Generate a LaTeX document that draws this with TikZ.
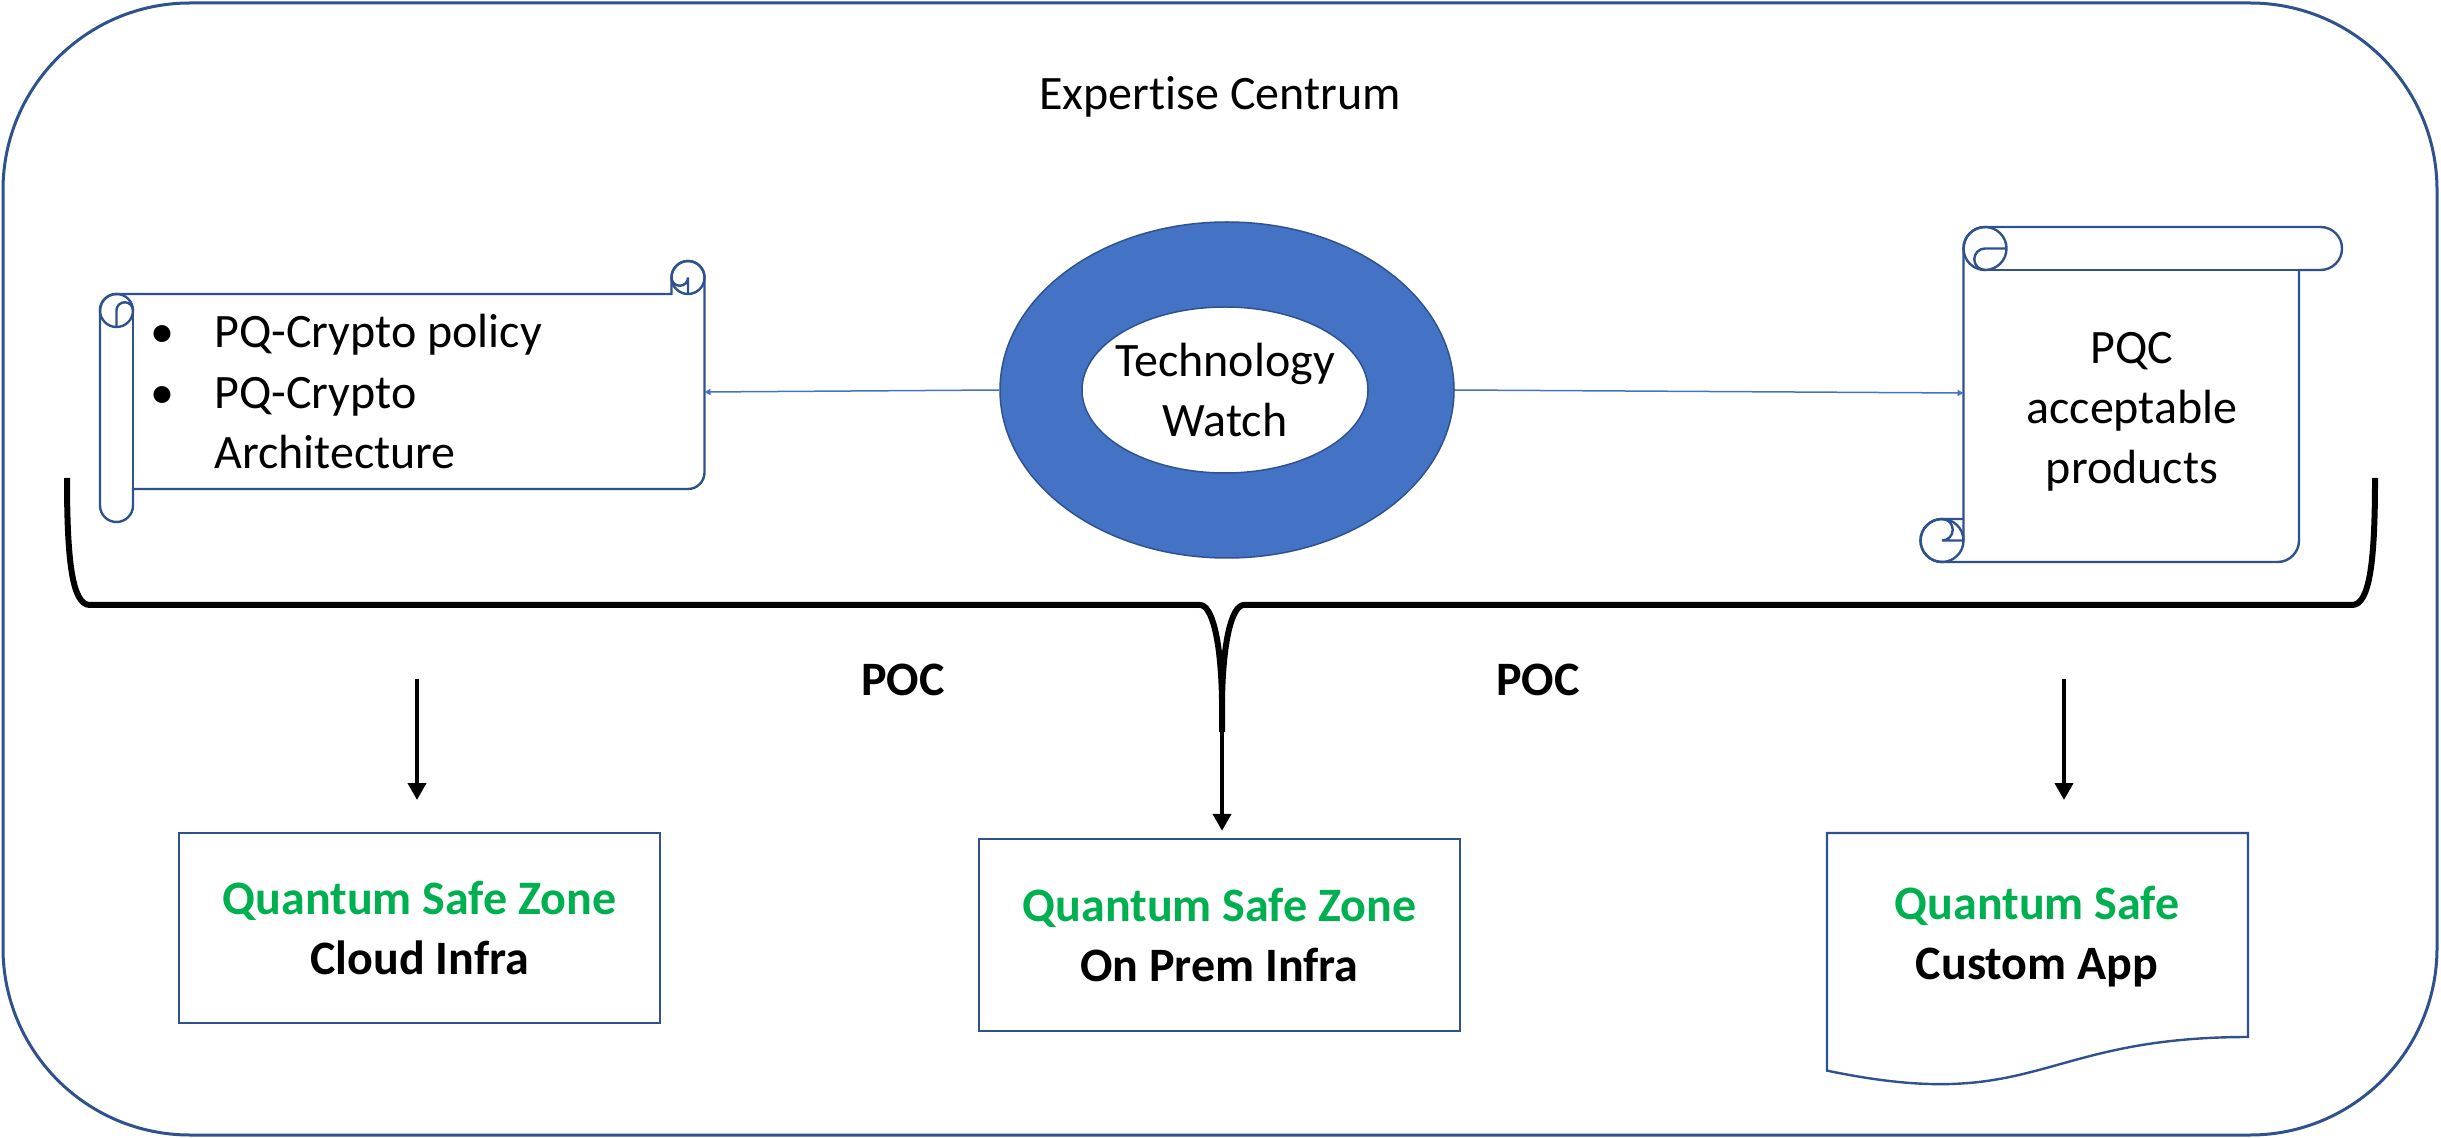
\documentclass[tikz,border=0pt]{standalone}
\usepackage{fontspec}
\setmainfont{Carlito}[Ligatures=NoCommon]
\usetikzlibrary{arrows.meta,shapes.geometric}
\definecolor{frameblue}{HTML}{2F528F}
\definecolor{donutblue}{HTML}{4472C4}
\definecolor{zonegreen}{HTML}{00B050}

\begin{document}
\begin{tikzpicture}[x=0.5pt,y=-0.5pt,
  outline/.style={draw=frameblue, line width=1.2pt},
  txt/.style={font=\fontsize{24}{30}\selectfont, inner sep=0pt},
  btxt/.style={font=\fontsize{24}{30}\selectfont\bfseries, inner sep=0pt},
  zonebox/.style={draw=frameblue, line width=1.2pt, minimum width=240.5pt,
    align=center, inner sep=0pt, font=\fontsize{24}{30}\selectfont\bfseries},
  downarrow/.style={line width=2pt, -{Triangle[width=9pt,length=8.5pt]}},
  bracket/.style={line width=3pt},
  link/.style={donutblue, line width=0.75pt, -{Triangle[width=3pt,length=3pt]}}]
\useasboundingbox (0,0) rectangle (2441,1138);

% outer frame
\draw[frameblue, line width=1.5pt, rounded corners=93.5pt] (3,3) rectangle (2437,1135);
\node[txt, anchor=base] (title) at (1220,110) {Expertise Centrum};

% horizontal scroll (left)
\draw[outline] (100,310.5) arc[start angle=180, end angle=270, radius=16.5]
  -- (671.5,294) -- (671.5,277.5)
  arc[start angle=180, end angle=360, radius=16.5]
  -- (704.5,472.5) arc[start angle=0, end angle=90, radius=16.5]
  -- (133,489) -- (133,505.5)
  arc[start angle=0, end angle=180, radius=16.5] -- cycle;
\draw[outline] (133,310.5) -- (133,489);
\draw[outline] (116.5,310.5) circle[radius=16.5];
\draw[outline] (116.5,327) -- (116.5,310.5) arc[start angle=180, end angle=360, radius=8.25];
\draw[outline] (688,277.5) circle[radius=16.5];
\draw[outline] (688,294) -- (688,277.5) arc[start angle=0, end angle=180, radius=8.25];
\coordinate (policyE) at (704.5,392);

\node[txt, anchor=base] (bul1) at (162,348) {\textbullet};
\node[txt, anchor=base west] (pol1) at (214,348) {PQ-Crypto policy};
\node[txt, anchor=base] (bul2) at (162,409) {\textbullet};
\node[txt, anchor=base west] (pol2) at (214,409) {PQ-Crypto};
\node[txt, anchor=base west] (pol3) at (214,469) {Architecture};

% vertical scroll (right)
\draw[outline] (1942,519) arc[start angle=270, end angle=90, radius=21.5]
  -- (2277.5,562) arc[start angle=90, end angle=0, radius=21.5]
  -- (2299,270) -- (2320.5,270)
  arc[start angle=90, end angle=-90, radius=21.5]
  -- (1985,227) arc[start angle=270, end angle=180, radius=21.5]
  -- (1963.5,540.5);
\draw[outline] (1985,270) -- (2299,270);
\draw[outline] (1985,248.5) circle[radius=21.5];
\draw[outline] (2006.5,248.5) -- (1985,248.5) arc[start angle=270, end angle=90, radius=10.75];
\draw[outline] (1942,540.5) circle[radius=21.5];
\draw[outline] (1963.5,519) -- (1942,519) arc[start angle=270, end angle=450, radius=10.75] -- (1963.5,540.5);
\coordinate (productsW) at (1963.5,393);
\node[txt, align=center] (products) at (2132,412) {PQC\\acceptable\\products};

% technology watch ring
\node[ellipse, draw=frameblue, fill=donutblue, line width=0.75pt,
  minimum width=227pt, minimum height=168pt, inner sep=0pt] (ring) at (1227,390) {};
\node[ellipse, draw=frameblue, fill=white, line width=0.75pt,
  minimum width=143pt, minimum height=83pt, inner sep=0pt] (core) at (1225,390) {};
\node[txt, align=center] (watch) at (core.center) {Technology\\Watch};

\draw[link] (ring.west) -- (policyE);
\draw[link] (ring.east) -- (productsW);

% bracket gathering the inputs
\coordinate (tip) at (1222,732);
\draw[bracket] (67,478) .. controls (67,560) and (72,605) .. (90,605)
  -- (1200,605) .. controls (1212,605) and (1221,640) .. (1222,700) -- (tip);
\draw[bracket] (2375,478) .. controls (2375,560) and (2370,605) .. (2352,605)
  -- (1244,605) .. controls (1232,605) and (1223,640) .. (1222,700);

\node[btxt, anchor=base] (poc1) at (903,695) {POC};
\node[btxt, anchor=base] (poc2) at (1538,695) {POC};

% target zones
\node[zonebox, minimum height=95pt] (cloud) at (419.5,928)
  {\textcolor{zonegreen}{Quantum Safe Zone}\\Cloud Infra};
\node[zonebox, minimum height=96pt] (onprem) at (1219.5,935)
  {\textcolor{zonegreen}{Quantum Safe Zone}\\On Prem Infra};
\draw[outline] (1827,833) -- (2248,833) -- (2248,1037)
  .. controls (2037.5,1037) and (2037.5,1114.7) .. (1827,1070.6) -- cycle;
\node[btxt, align=center] (custom) at (2037,937)
  {\textcolor{zonegreen}{Quantum Safe}\\Custom App};

% arrows down to the zones
\coordinate (la) at (417,679);
\coordinate (lb) at (417,800);
\coordinate (ra) at (2064,679);
\coordinate (rb) at (2064,800);
\draw[downarrow] (la) -- (lb);
\draw[downarrow] (ra) -- (rb);
\draw[downarrow, shorten >=3.5pt] (tip) -- (tip |- onprem.north);
\end{tikzpicture}
\end{document}
